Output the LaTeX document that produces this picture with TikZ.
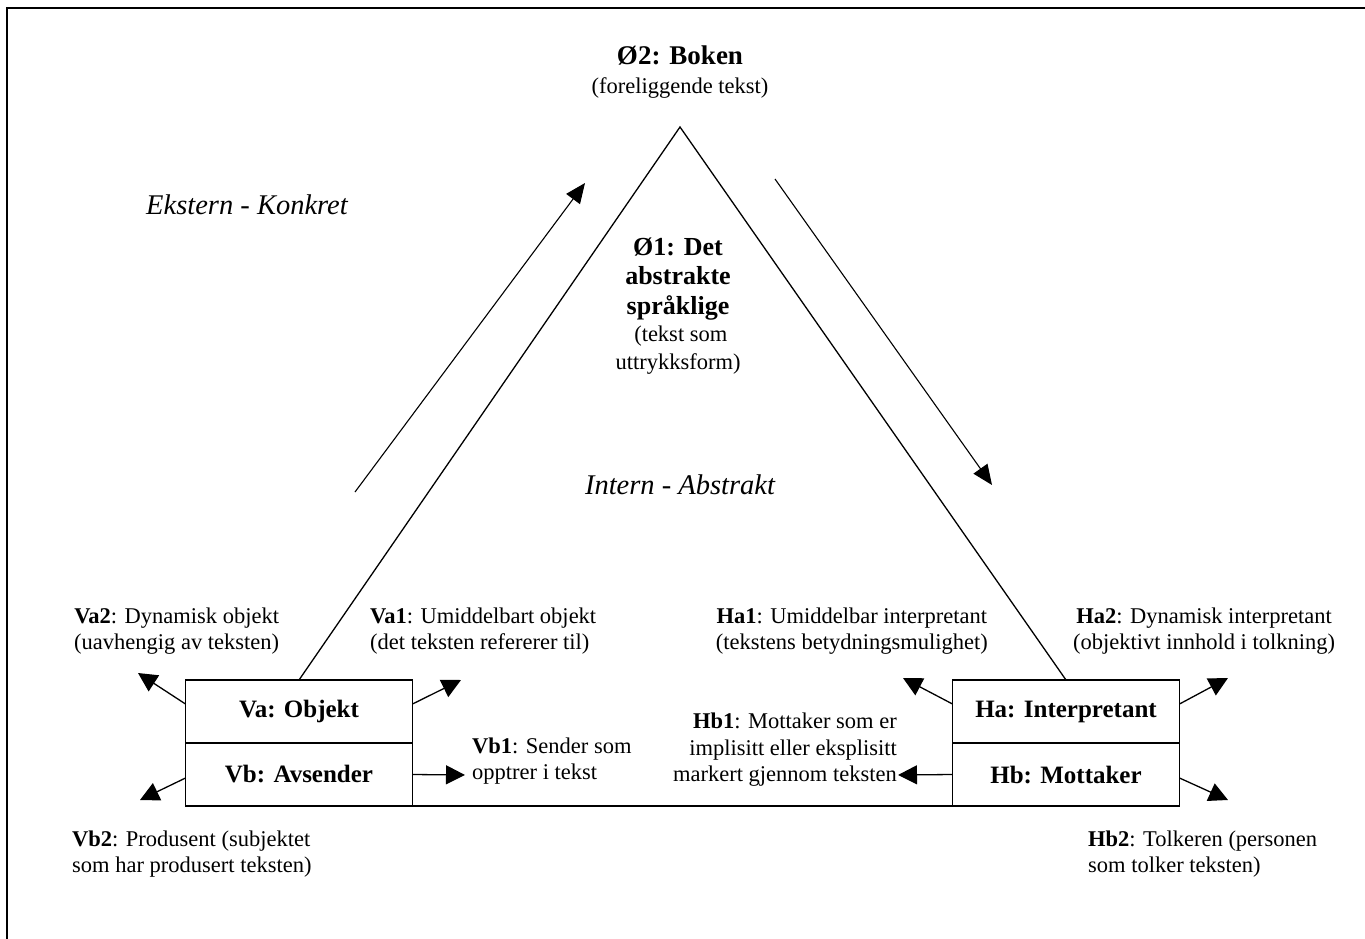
\documentclass[tikz,border=0pt]{standalone}
\usepackage{fontspec}
\setmainfont{Liberation Serif}
\usetikzlibrary{arrows.meta, positioning}

\begin{document}
\begin{tikzpicture}[x=1pt, y=-1pt, node distance=0pt,
    box/.style={draw, line width=1.6pt, outer sep=0pt, inner sep=0pt,
        minimum width=227pt, minimum height=63pt,
        font=\bfseries\fontsize{25}{29}\selectfont},
    txt/.style={inner sep=0pt, align=center, font=\fontsize{22.5}{26.5}\selectfont},
    side/.style={inner sep=0pt, font=\itshape\fontsize{28.5}{32}\selectfont},
    leg/.style={line width=1.3pt},
    pil/.style={line width=1.3pt, -{Triangle[length=19pt, width=19pt]}},
    longpil/.style={line width=1.1pt, -{Triangle[length=20pt, width=17pt]}}]
    \useasboundingbox (0,0) rectangle (1365,939);
    \draw[line width=2pt] (7,939) -- (7,8) -- (1365,8);

    \node[box]              (Va)  at (299,711.5)  {Va: Objekt};
    \node[box, below=of Va] (Vb)                  {Vb: Avsender};
    \node[box]              (Ha)  at (1066,711.5) {Ha: Interpretant};
    \node[box, below=of Ha] (Hb)                  {Hb: Mottaker};

    \coordinate (Top) at (680,127);
    \draw[leg] (Va.north) -- (Top) -- (Ha.north);
    \draw[line width=1.6pt] (Vb.south east) -- (Hb.south west);

    \node[txt] (O2) at (680,72) {{\bfseries\fontsize{27}{30}\selectfont Ø2: Boken}\\[3pt](foreliggende tekst)};
    \node[txt, font=\fontsize{22.5}{27.5}\selectfont] (O1) at (678,306)
        {{\bfseries\fontsize{26}{29}\selectfont Ø1: Det}\\[2pt]
         {\bfseries\fontsize{26}{29}\selectfont abstrakte}\\[2pt]
         {\bfseries\fontsize{26}{29}\selectfont språklige}\\
         \ (tekst som\\uttrykksform)};
    \node[side] (Ekstern) at (247,205) {Ekstern - Konkret};
    \node[side] (Intern)  at (680,485) {Intern - Abstrakt};

    \node[txt, anchor=west]             (Va2) at (74,631)   {\textbf{Va2}: Dynamisk objekt\\(uavhengig av teksten)};
    \node[txt, align=left, anchor=west] (Va1) at (370,631)  {\textbf{Va1}: Umiddelbart objekt\\(det teksten refererer til)};
    \node[txt, anchor=east]             (Ha1) at (988,631)  {\textbf{Ha1}: Umiddelbar interpretant\\(tekstens betydningsmulighet)};
    \node[txt, anchor=west]             (Ha2) at (1073,631) {\textbf{Ha2}: Dynamisk interpretant\\(objektivt innhold i tolkning)};
    \node[txt, align=left, anchor=west] (Vb1) at (472,761)  {\textbf{Vb1}: Sender som\\opptrer i tekst};
    \node[txt, align=right, anchor=east](Hb1) at (897,750)  {\textbf{Hb1}: Mottaker som er\\implisitt eller eksplisitt\\markert gjennom teksten};
    \node[txt, align=left, anchor=west] (Vb2) at (72,854)   {\textbf{Vb2}: Produsent (subjektet\\som har produsert teksten)};
    \node[txt, align=left, anchor=west] (Hb2) at (1088,854) {\textbf{Hb2}: Tolkeren (personen\\som tolker teksten)};

    \coordinate (Va2 tip) at (138,673);
    \coordinate (Va1 tip) at (461,680);
    \coordinate (Vb2 tip) at (140,800);
    \coordinate (Vb1 tip) at (465,775);
    \coordinate (Ha1 tip) at (903,678);
    \coordinate (Ha2 tip) at (1228,678);
    \coordinate (Hb1 tip) at (898,775);
    \coordinate (Hb2 tip) at (1228,800);

    \draw[pil] ([yshift=7.5pt]Va.west)  -- (Va2 tip);
    \draw[pil] ([yshift=7.5pt]Va.east)  -- (Va1 tip);
    \draw[pil] ([yshift=-3.5pt]Vb.west) -- (Vb2 tip);
    \draw[pil] (Vb.east)                -- (Vb1 tip);
    \draw[pil] ([yshift=7.5pt]Ha.west)  -- (Ha1 tip);
    \draw[pil] ([yshift=7.5pt]Ha.east)  -- (Ha2 tip);
    \draw[pil] (Hb.west)                -- (Hb1 tip);
    \draw[pil] ([yshift=-3.5pt]Hb.east) -- (Hb2 tip);

    \coordinate (Up start)   at (355,492);
    \coordinate (Up end)     at (585,183);
    \coordinate (Down start) at (775,179);
    \coordinate (Down end)   at (992,485);
    \draw[longpil] (Up start)   -- (Up end);
    \draw[longpil] (Down start) -- (Down end);
\end{tikzpicture}
\end{document}
